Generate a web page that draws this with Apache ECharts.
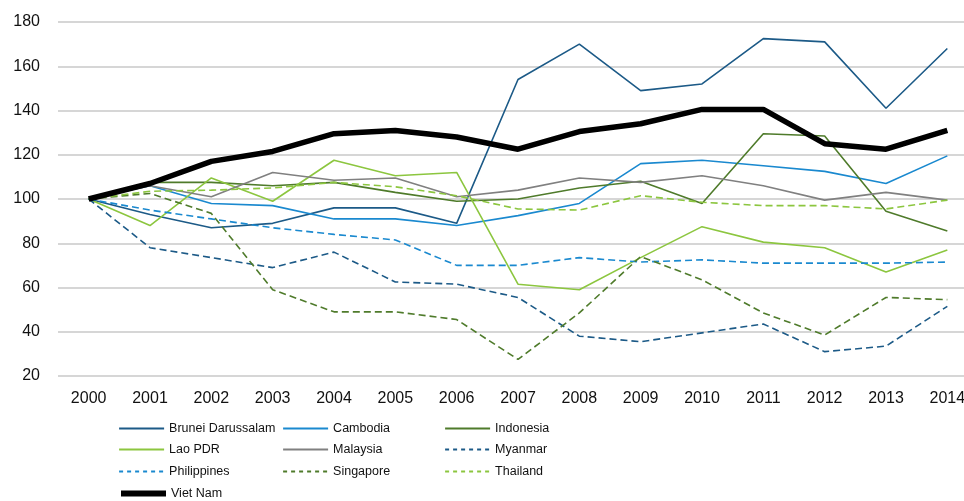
<!DOCTYPE html>
<html>
<head>
<meta charset="utf-8">
<script src="https://cdn.jsdelivr.net/npm/echarts@6/dist/echarts.min.js"></script>
<style>
  html, body { margin: 0; padding: 0; background: #fff; }
  #main { width: 964px; height: 501px; }
</style>
</head>
<body>
<div id="main"></div>
<script>
const YEARS = ['2000', '2001', '2002', '2003', '2004', '2005', '2006', '2007', '2008', '2009', '2010', '2011', '2012', '2013', '2014'];
const Y_TICKS = [20, 40, 60, 80, 100, 120, 140, 160, 180];

const BRUNEI = [100, 93, 87, 89, 96, 96, 89, 154, 170, 149, 152, 172.5, 171, 141, 168];
const CAMBODIA = [100, 106, 98, 97, 91, 91, 88, 92.5, 98, 116, 117.5, 115, 112.5, 107, 119.5];
const INDONESIA = [100, 107.5, 107.5, 106, 107.5, 103, 99, 100, 105, 108, 98, 129.5, 128.5, 94.5, 85.5];
const LAO = [100, 88, 109.5, 99, 117.5, 110.5, 112, 61.5, 59, 73.5, 87.5, 80.5, 78, 67, 77];
const MALAYSIA = [100, 106, 101, 112, 108.5, 109.5, 101, 104, 109.5, 107.5, 110.5, 106, 99.5, 103, 99.5];
const MYANMAR = [100, 78, 73.5, 69, 76, 62.5, 61.5, 55.5, 38, 35.5, 39.5, 43.5, 31, 33.5, 51.5];
const PHILIPPINES = [100, 95, 91, 87, 84, 81.5, 70, 70, 73.5, 71.5, 72.5, 71, 71, 71, 71.5];
const SINGAPORE = [100, 102.5, 93.5, 59, 49, 49, 45.5, 27.5, 48.5, 74, 63.5, 48.5, 38.5, 55.5, 54.5];
const THAILAND = [100, 103.5, 104, 105, 107.5, 105.5, 101.5, 95.5, 95, 101.5, 98.5, 97, 97, 95.5, 99.5];
const VIETNAM = [100, 107, 117, 121.5, 129.5, 131, 128, 122.5, 130.5, 134, 140.5, 140.5, 125, 122.5, 131];

const DARK_BLUE = '#1c5a87';
const BLUE = '#1a89cf';
const DARK_GREEN = '#4f7b2b';
const LIGHT_GREEN = '#8cc63f';
const GREY = '#808080';
const DASH = [7, 4];

const SERIES = [
  { name: 'Brunei Darussalam', data: BRUNEI, color: DARK_BLUE, type: 'solid', width: 1.6 },
  { name: 'Cambodia', data: CAMBODIA, color: BLUE, type: 'solid', width: 1.6 },
  { name: 'Indonesia', data: INDONESIA, color: DARK_GREEN, type: 'solid', width: 1.6 },
  { name: 'Lao PDR', data: LAO, color: LIGHT_GREEN, type: 'solid', width: 1.6 },
  { name: 'Malaysia', data: MALAYSIA, color: GREY, type: 'solid', width: 1.6 },
  { name: 'Myanmar', data: MYANMAR, color: DARK_BLUE, type: DASH, width: 1.6 },
  { name: 'Philippines', data: PHILIPPINES, color: BLUE, type: DASH, width: 1.6 },
  { name: 'Singapore', data: SINGAPORE, color: DARK_GREEN, type: DASH, width: 1.6 },
  { name: 'Thailand', data: THAILAND, color: LIGHT_GREEN, type: DASH, width: 1.6 },
  { name: 'Viet Nam', data: VIETNAM, color: '#000000', type: 'solid', width: 5.5 }
];

var chartDom = document.getElementById('main');
var myChart = echarts.init(chartDom);

// one legend per entry so the three columns line up like the original
const legendCols = [118, 282, 444];
const legendTops = [422, 443, 465, 487];
const legends = SERIES.map((s, i) => ({
  left: legendCols[i % 3],
  top: legendTops[Math.floor(i / 3)],
  padding: 0,
  itemWidth: 45,
  itemHeight: 16,
  selectedMode: false,
  itemStyle: { opacity: 0 },
  data: [{
    name: s.name,
    lineStyle: { width: s.name === 'Viet Nam' ? 6 : 2.2, type: s.type === 'solid' ? 'solid' : [4, 4] }
  }],
  textStyle: {
    color: '#111',
    fontSize: 12.5,
    fontFamily: '"Liberation Sans Narrow", "Liberation Sans", Arial, sans-serif'
  }
}));

let option = {
  backgroundColor: '#ffffff',
  animation: false,
  textStyle: { fontFamily: '"Liberation Sans", Arial, sans-serif' },
  grid: {
    left: 58,
    top: 22,
    width: 920,
    height: 354,
    outerBoundsMode: 'none'
  },
  legend: legends,
  xAxis: {
    type: 'category',
    data: YEARS,
    boundaryGap: true,
    axisLine: { show: false },
    axisTick: { show: false },
    axisLabel: {
      fontSize: 16,
      color: '#111',
      margin: 15,
      interval: 0
    }
  },
  yAxis: {
    type: 'value',
    min: Y_TICKS[0],
    max: Y_TICKS[Y_TICKS.length - 1],
    interval: 20,
    axisLine: { show: false },
    axisTick: { show: false },
    axisLabel: {
      fontSize: 16,
      color: '#111',
      margin: 18
    },
    splitLine: {
      lineStyle: { color: '#c8c8c8', width: 1.5 }
    }
  },
  series: SERIES.map(s => ({
    name: s.name,
    type: 'line',
    data: s.data,
    symbol: 'none',
    smooth: false,
    color: s.color,
    lineStyle: { color: s.color, width: s.width, type: s.type },
    z: s.name === 'Viet Nam' ? 5 : 2
  }))
};

option && myChart.setOption(option);
</script>
</body>
</html>
